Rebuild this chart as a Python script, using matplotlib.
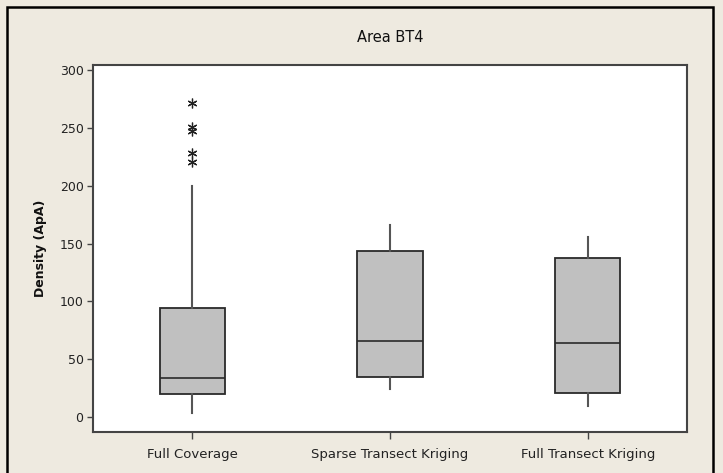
import matplotlib
matplotlib.use("Agg")
import matplotlib.pyplot as plt
from matplotlib.patches import Rectangle

categories = ["Full Coverage", "Sparse Transect Kriging", "Full Transect Kriging"]
whislo = [3.5, 24.5, 10]
q1 = [20, 34.5, 20.8]
med = [33.5, 66.3, 64.3]
q3 = [94.8, 143.6, 137.2]
whishi = [200, 166, 155.5]
outliers = [[271.5, 251, 247.5, 228.5, 220.5], [], []]
title = "Area BT4"
ylabel = "Density (ApA)"
yticks = [0, 50, 100, 150, 200, 250, 300]

bg = "#EEEAE0"
fig = plt.figure(figsize=(7.23, 4.73), dpi=100, facecolor=bg)
W, H = 723, 473
ax = fig.add_axes([93.3 / W, 1 - 432.3 / H, (686.7 - 93.3) / W, (432.3 - 65) / H])
ax.set_facecolor("white")

stats = []
for i in range(len(categories)):
    stats.append(dict(whislo=whislo[i], q1=q1[i], med=med[i], q3=q3[i],
                      whishi=whishi[i], fliers=outliers[i], label=categories[i]))

ax.bxp(stats, positions=[1, 2, 3], widths=0.33, patch_artist=True, showcaps=False,
       boxprops=dict(facecolor="#C0C0C0", edgecolor="#2a2a2a", linewidth=1.3),
       medianprops=dict(color="#2a2a2a", linewidth=1.2),
       whiskerprops=dict(color="#555555", linewidth=1.5),
       flierprops=dict(marker=(6, 2, 0), markersize=7, markeredgecolor="#222222",
                       markeredgewidth=0.9, linestyle="none"))

ax.set_xlim(0.5, 3.5)
ax.set_ylim(-13, 304.3)
ax.set_yticks(yticks)
ax.set_yticklabels([str(v) for v in yticks], fontsize=9, color="#222222")
ax.set_xticks([1, 2, 3])
ax.set_xticklabels(categories, fontsize=9.5, color="#222222")
ax.tick_params(axis="y", direction="out", length=4, width=1, color="#444444", pad=3)
ax.tick_params(axis="x", direction="out", length=5, width=1, color="#444444", pad=6)
for s in ax.spines.values():
    s.set_color("#444444")
    s.set_linewidth(1.5)

ax.set_ylabel(ylabel, fontsize=9, fontweight="bold", color="#111111", labelpad=9)
fig.text(390 / W, 1 - 38 / H, title, ha="center", va="center", fontsize=10.5, color="#111111")

fig.patches.append(Rectangle((7 / W, -0.05), (713 - 7) / W, 1 - 7 / H + 0.05,
                             transform=fig.transFigure, fill=False,
                             edgecolor="black", linewidth=1.8))

fig.savefig("out.png", dpi=100, facecolor=bg)
